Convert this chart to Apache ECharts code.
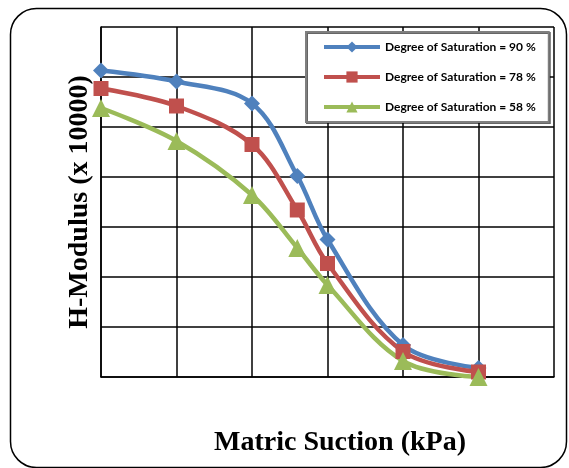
<!DOCTYPE html>
<html>
<head>
<meta charset="utf-8">
<script src="https://cdn.jsdelivr.net/npm/echarts@6/dist/echarts.min.js"></script>
<style>html,body{margin:0;padding:0;background:#fff;}#c{width:569px;height:468px;}</style>
</head>
<body>
<div id="c"></div>
<script>
// Matric suction (kPa) — x positions of the measured points
var suction = [0, 50, 100, 130, 150, 200, 250];
// H-Modulus (x 10000)
var sat90 = [61.3, 59.1, 54.7, 40.2, 27.5, 6.4, 1.8];
var sat78 = [57.7, 54.2, 46.5, 33.4, 22.7, 5.1, 1.0];
var sat58 = [53.8, 47.2, 36.4, 25.8, 18.4, 3.2, 0.0];
var seriesNames = ['Degree of Saturation = 90 %', 'Degree of Saturation = 78 %', 'Degree of Saturation = 58 %'];

function pairs(ys) { return suction.map(function (x, i) { return [x, ys[i]]; }); }

var chart = echarts.init(document.getElementById('c'), null, { renderer: 'canvas' });
var lineW = 4.5;
chart.setOption({
  animation: false,
  backgroundColor: '#fff',
  grid: { left: 101, right: 15, top: 27, bottom: 91, containLabel: false },
  xAxis: {
    type: 'value', min: 0, max: 300, interval: 50,
    name: 'Matric Suction (kPa)', nameLocation: 'middle', nameGap: 52,
    nameTextStyle: { fontFamily: 'Liberation Serif', fontWeight: 'bold', fontSize: 28, color: '#000', padding: [0, 0, 0, 25] },
    axisLine: { show: true, lineStyle: { color: '#000', width: 1.5 } },
    axisTick: { show: false }, axisLabel: { show: false },
    splitLine: { show: true, lineStyle: { color: '#000', width: 1.5 } }
  },
  yAxis: {
    type: 'value', min: 0, max: 70, interval: 10,
    name: 'H-Modulus (x 10000)', nameLocation: 'middle', nameGap: 7,
    nameTextStyle: { fontFamily: 'Liberation Serif', fontWeight: 'bold', fontSize: 28, color: '#000' },
    axisLine: { show: true, lineStyle: { color: '#000', width: 1.5 } },
    axisTick: { show: false }, axisLabel: { show: false },
    splitLine: { show: true, lineStyle: { color: '#000', width: 1.5 } }
  },
  legend: {
    orient: 'vertical', left: 306, top: 32,
    padding: [9, 13, 9, 16],
    itemWidth: 56, itemHeight: 14, itemGap: 18,
    backgroundColor: '#fff', borderColor: '#7f7f7f', borderWidth: 2,
    shadowColor: 'rgba(0,0,0,0.6)', shadowOffsetX: 1, shadowOffsetY: 1, shadowBlur: 0,
    lineStyle: { width: 4 },
    textStyle: { fontFamily: 'Lato', fontWeight: 'bold', fontSize: 12, color: '#000' },
    data: seriesNames
  },
  graphic: [{
    type: 'rect', left: 8, top: 6, z: 100, silent: true,
    shape: { width: 556, height: 459, r: 26 },
    style: { fill: 'none', stroke: '#000', lineWidth: 1.5 }
  }],
  series: [
    { name: seriesNames[0], type: 'line', smooth: 0.35, data: pairs(sat90),
      symbol: 'diamond', symbolSize: 16, color: '#4F81BD',
      lineStyle: { width: lineW, color: '#4F81BD' }, itemStyle: { color: '#4F81BD' } },
    { name: seriesNames[1], type: 'line', smooth: 0.35, data: pairs(sat78),
      symbol: 'rect', symbolSize: 15, color: '#C0504D',
      lineStyle: { width: lineW, color: '#C0504D' }, itemStyle: { color: '#C0504D' } },
    { name: seriesNames[2], type: 'line', smooth: 0.35, data: pairs(sat58),
      symbol: 'triangle', symbolSize: 18, color: '#9BBB59',
      lineStyle: { width: lineW, color: '#9BBB59' }, itemStyle: { color: '#9BBB59' } }
  ]
});
</script>
</body>
</html>
